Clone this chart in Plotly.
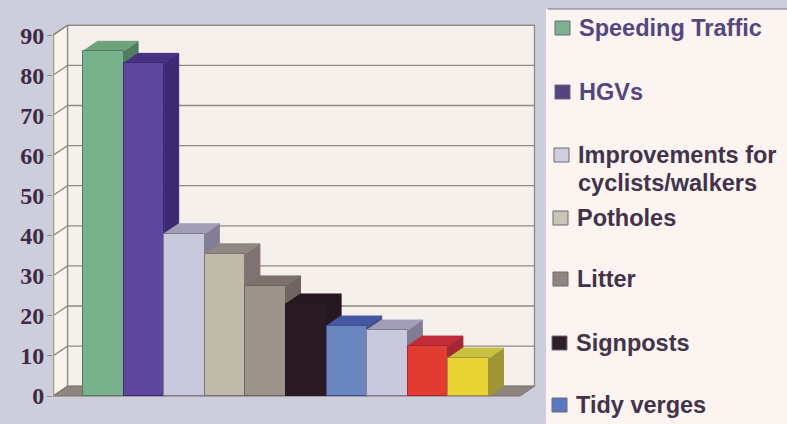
import plotly.graph_objects as go

W, H = 787, 424
categories = ["Speeding Traffic", "HGVs", "Improvements for cyclists/walkers", "Potholes",
              "Litter", "Signposts", "Tidy verges", "Other 1", "Other 2", "Other 3"]
values = [86, 83, 40.5, 35.5, 27.5, 23, 17.5, 16.5, 12.5, 9.5]
front_colors = ["#78B28C", "#5B489C", "#C9C9DD", "#BFBBAB", "#9C938B", "#2B1B24",
                "#6A86BF", "#C9C9DD", "#E23B30", "#E8D535"]
side_colors = ["#4F7D5E", "#3B2973", "#827C94", "#7F7272", "#6F6462", "#251820",
               "#3F4F90", "#827C94", "#A32833", "#9E9638"]
top_colors = ["#6FA27C", "#46327F", "#A29EB6", "#908682", "#7C706B", "#251820",
              "#4557A2", "#A29EB6", "#C22B3A", "#C9C142"]
y_ticks = [0, 10, 20, 30, 40, 50, 60, 70, 80, 90]
legend_lines = [("Speeding Traffic", 28, 577, "#54467F", "#7FB08F"),
                ("HGVs", 92, 577, "#54467F", "#54447F"),
                ("Improvements for", 155, 576, "#42324A", "#CFCFDF"),
                ("cyclists/walkers", 183, 576, "#42324A", None),
                ("Potholes", 218, 575, "#42324A", "#C9C6B8"),
                ("Litter", 279, 575, "#42324A", "#8F8680"),
                ("Signposts", 343, 574, "#42324A", "#2F1D2A"),
                ("Tidy verges", 405, 574, "#42324A", "#5A78BE")]

# pixel layout of the frame
X_ZERO, X_UNIT = 83.0, 40.6
Y_ZERO, Y_UNIT = 396.0, 4.01
L, R, T, B = 53, 540, 20, 410
x_range = [(L - X_ZERO) / X_UNIT, (R - X_ZERO) / X_UNIT]
y_range = [(Y_ZERO - B) / Y_UNIT, (Y_ZERO - T) / Y_UNIT]
DX, DY = 14.5 / X_UNIT, 9.8 / Y_UNIT
x_front_l, x_front_r = x_range[0], (520 - X_ZERO) / X_UNIT
y_max = y_ticks[-1]

fig = go.Figure()

def poly(xs, ys, fill, line=None, lw=1):
    fig.add_trace(go.Scatter(x=xs + xs[:1], y=ys + ys[:1], mode="lines", fill="toself",
                             fillcolor=fill, line=dict(color=line or fill, width=lw),
                             hoverinfo="skip", showlegend=False))

def line(xs, ys, color, lw=1.3):
    fig.add_trace(go.Scatter(x=xs, y=ys, mode="lines", line=dict(color=color, width=lw),
                             hoverinfo="skip", showlegend=False))

# walls and floor
poly([x_front_l + DX, x_front_r + DX, x_front_r + DX, x_front_l + DX],
     [DY, DY, y_max + DY, y_max + DY], "#F6F0ED", "#8F8B88", 1.3)
poly([x_front_l, x_front_l + DX, x_front_l + DX, x_front_l],
     [0, DY, y_max + DY, y_max], "#F9F5EE", "#8F8B80", 1.3)
poly([x_front_l, x_front_r, x_front_r + DX, x_front_l + DX],
     [0, 0, DY, DY], "#8F8580", "#7A716C", 1)
for t in y_ticks[1:]:
    line([x_front_l, x_front_l + DX, x_front_r + DX], [t, t + DY, t + DY], "#8E8A80")
line([x_front_l, x_front_l], [0, y_max], "#A89C88", 2.5)

# depth faces of the bars
for i, v in enumerate(values):
    poly([i + 1, i + 1 + DX, i + 1 + DX, i + 1], [0, DY, v + DY, v], side_colors[i])
    poly([i, i + 1, i + 1 + DX, i + DX], [v, v, v + DY, v + DY], top_colors[i])

# front faces of the bars, on an overlay so they cover the neighbouring depth faces
fig.add_trace(go.Bar(x=[i + 0.5 for i in range(len(values))], y=values, width=1,
                     marker=dict(color=front_colors, line=dict(color=side_colors, width=1)),
                     text=categories, hoverinfo="text+y", textposition="none",
                     xaxis="x2", yaxis="y2", showlegend=False))

shapes = [dict(type="rect", xref="paper", yref="paper", x0=546 / W, x1=1, y0=0, y1=1 - 9 / H,
               fillcolor="#FBF4F1", line=dict(width=0), layer="below"),
          dict(type="line", xref="paper", yref="paper", x0=548 / W, x1=1, y0=1 - 9 / H, y1=1 - 9 / H,
               line=dict(color="#77708A", width=1), layer="below")]
annotations = []
for text, y, x, color, swatch in legend_lines:
    annotations.append(dict(text="<b>%s</b>" % text, xref="paper", yref="paper", x=x / W, y=1 - y / H,
                            xanchor="left", yanchor="middle", showarrow=False,
                            font=dict(family="Liberation Sans", size=23.5, color=color)))
    if swatch:
        shapes.append(dict(type="rect", xref="paper", yref="paper", x0=(x - 22) / W, x1=(x - 7) / W,
                           y0=1 - (y + 7) / H, y1=1 - (y - 7) / H, fillcolor=swatch,
                           line=dict(color="#6A6A78", width=1), layer="above"))

dom_x = [L / W, R / W]
dom_y = [1 - B / H, 1 - T / H]
fig.update_layout(
    width=W, height=H, margin=dict(l=0, r=0, t=0, b=0), autosize=False,
    paper_bgcolor="#CDCDDC", plot_bgcolor="rgba(0,0,0,0)", showlegend=False, bargap=0,
    shapes=shapes, annotations=annotations,
    xaxis=dict(domain=dom_x, range=x_range, visible=False, fixedrange=True),
    yaxis=dict(domain=dom_y, range=y_range, tickmode="array", tickvals=y_ticks,
               ticks="outside", ticklen=5, tickwidth=1.3, tickcolor="#8E8A80",
               ticklabelstandoff=-2,
               showgrid=False, zeroline=False, showline=False, fixedrange=True,
               tickfont=dict(family="Liberation Serif", size=24, color="#3F2A45", weight=700)),
    xaxis2=dict(domain=dom_x, range=x_range, overlaying="x", visible=False, fixedrange=True),
    yaxis2=dict(domain=dom_y, range=y_range, overlaying="y", visible=False, fixedrange=True),
)
fig.write_html("out.html", config=dict(displayModeBar=False),
               post_script="document.body.style.margin='0';document.body.style.overflow='hidden';"
                           "document.body.style.background='#CDCDDC';")
